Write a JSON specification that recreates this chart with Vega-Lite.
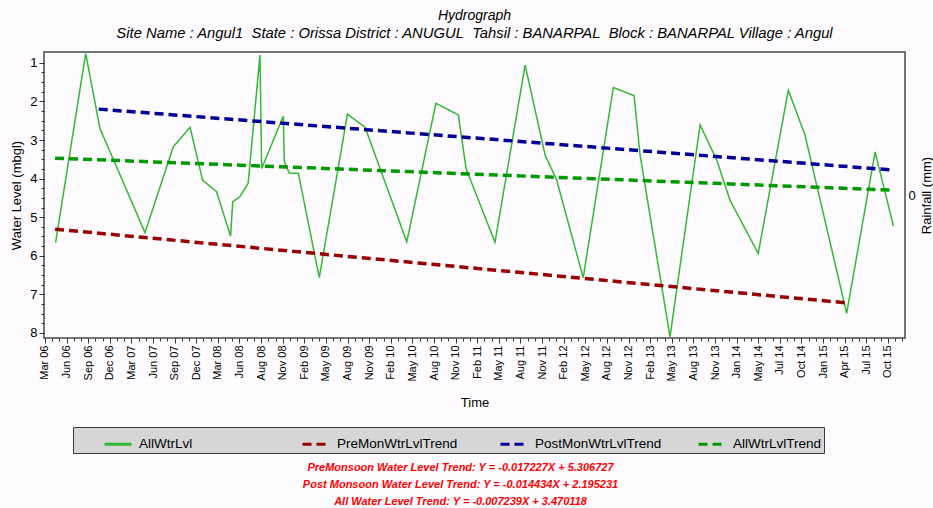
{
  "$schema": "https://vega.github.io/schema/vega-lite/v6.json",
  "width": 861,
  "height": 286,
  "autosize": {"type": "none"},
  "padding": {"left": 44, "top": 52, "right": 28, "bottom": 170},
  "background": "#fefbfe",
  "config": {
    "font": "Liberation Sans",
    "view": {"stroke": "#4a4a4a", "strokeWidth": 1.5},
    "axis": {"grid": false, "labelColor": "#000", "titleColor": "#000", "tickColor": "#333", "domainColor": "#4a4a4a", "titleFontWeight": "normal"}
  },
  "title": {
    "text": "Hydrograph",
    "subtitle": "Site Name : Angul1\u00a0\u00a0State : Orissa District : ANUGUL\u00a0\u00a0Tahsil : BANARPAL\u00a0\u00a0Block : BANARPAL Village : Angul",
    "anchor": "middle",
    "fontSize": 14,
    "fontStyle": "italic",
    "fontWeight": "normal",
    "color": "#000",
    "subtitleFontSize": 14.8,
    "subtitleFontStyle": "italic",
    "subtitleColor": "#000",
    "subtitlePadding": 3,
    "offset": 10
  },
  "layer": [
    {
      "data": {
        "values": [
          {"series": "AllWtrLvl", "date": "2006-04-14", "level": 5.66},
          {"series": "AllWtrLvl", "date": "2006-08-17", "level": 0.76},
          {"series": "AllWtrLvl", "date": "2006-10-15", "level": 2.70},
          {"series": "AllWtrLvl", "date": "2007-04-20", "level": 5.40},
          {"series": "AllWtrLvl", "date": "2007-08-15", "level": 3.18},
          {"series": "AllWtrLvl", "date": "2007-10-24", "level": 2.67},
          {"series": "AllWtrLvl", "date": "2007-12-15", "level": 4.04},
          {"series": "AllWtrLvl", "date": "2008-02-11", "level": 4.34},
          {"series": "AllWtrLvl", "date": "2008-04-09", "level": 5.49},
          {"series": "AllWtrLvl", "date": "2008-04-18", "level": 4.60},
          {"series": "AllWtrLvl", "date": "2008-05-18", "level": 4.47},
          {"series": "AllWtrLvl", "date": "2008-06-21", "level": 4.12},
          {"series": "AllWtrLvl", "date": "2008-08-09", "level": 0.80},
          {"series": "AllWtrLvl", "date": "2008-08-16", "level": 3.74},
          {"series": "AllWtrLvl", "date": "2008-11-14", "level": 2.38},
          {"series": "AllWtrLvl", "date": "2008-11-18", "level": 3.56},
          {"series": "AllWtrLvl", "date": "2008-12-09", "level": 3.86},
          {"series": "AllWtrLvl", "date": "2009-01-15", "level": 3.86},
          {"series": "AllWtrLvl", "date": "2009-04-12", "level": 6.56},
          {"series": "AllWtrLvl", "date": "2009-08-07", "level": 2.33},
          {"series": "AllWtrLvl", "date": "2009-10-19", "level": 2.67},
          {"series": "AllWtrLvl", "date": "2010-04-10", "level": 5.64},
          {"series": "AllWtrLvl", "date": "2010-08-09", "level": 2.05},
          {"series": "AllWtrLvl", "date": "2010-11-10", "level": 2.35},
          {"series": "AllWtrLvl", "date": "2010-12-12", "level": 3.74},
          {"series": "AllWtrLvl", "date": "2011-04-11", "level": 5.65},
          {"series": "AllWtrLvl", "date": "2011-08-14", "level": 1.06},
          {"series": "AllWtrLvl", "date": "2011-11-05", "level": 3.39},
          {"series": "AllWtrLvl", "date": "2011-12-23", "level": 4.04},
          {"series": "AllWtrLvl", "date": "2012-04-11", "level": 6.57},
          {"series": "AllWtrLvl", "date": "2012-08-14", "level": 1.64},
          {"series": "AllWtrLvl", "date": "2012-11-08", "level": 1.85},
          {"series": "AllWtrLvl", "date": "2012-12-03", "level": 3.39},
          {"series": "AllWtrLvl", "date": "2013-04-06", "level": 8.10},
          {"series": "AllWtrLvl", "date": "2013-08-09", "level": 2.61},
          {"series": "AllWtrLvl", "date": "2013-10-17", "level": 3.52},
          {"series": "AllWtrLvl", "date": "2013-12-11", "level": 4.56},
          {"series": "AllWtrLvl", "date": "2014-04-07", "level": 5.94},
          {"series": "AllWtrLvl", "date": "2014-08-10", "level": 1.71},
          {"series": "AllWtrLvl", "date": "2014-10-18", "level": 2.87},
          {"series": "AllWtrLvl", "date": "2015-04-09", "level": 7.49},
          {"series": "AllWtrLvl", "date": "2015-08-05", "level": 3.31},
          {"series": "AllWtrLvl", "date": "2015-10-20", "level": 5.23},
          {"series": "PreMonWtrLvlTrend", "date": "2006-04-12", "level": 5.31},
          {"series": "PreMonWtrLvlTrend", "date": "2015-04-09", "level": 7.22},
          {"series": "PostMonWtrLvlTrend", "date": "2006-10-10", "level": 2.20},
          {"series": "PostMonWtrLvlTrend", "date": "2015-10-20", "level": 3.78},
          {"series": "AllWtrLvlTrend", "date": "2006-04-12", "level": 3.47},
          {"series": "AllWtrLvlTrend", "date": "2015-10-20", "level": 4.30}
        ]
      },
      "mark": {"type": "line", "strokeCap": "butt"},
      "encoding": {
        "x": {
          "field": "date",
          "type": "temporal",
          "scale": {"domain": [1140825600000, 1449446400000]},
          "axis": {
            "orient": "bottom",
            "title": "Time",
            "values": {"expr": "sequence(1141171200000, 1449446400000, 2582496000)"},
            "labelExpr": "abs((datum.value-1141171200000)/7747488000-round((datum.value-1141171200000)/7747488000))>0.1?'':['Mar 06','Jun 06','Sep 06','Dec 06','Mar 07','Jun 07','Sep 07','Dec 07','Mar 08','Jun 08','Aug 08','Nov 08','Feb 09','May 09','Aug 09','Nov 09','Feb 10','May 10','Aug 10','Nov 10','Feb 11','May 11','Aug 11','Nov 11','Feb 12','May 12','Aug 12','Nov 12','Feb 13','May 13','Aug 13','Nov 13','Jan 14','May 14','Jul 14','Oct 14','Jan 15','Apr 15','Jul 15','Oct 15'][round((datum.value-1141171200000)/7747488000)]",
            "tickSize": {"condition": {"test": "abs((datum.value-1141171200000)/7747488000-round((datum.value-1141171200000)/7747488000))>0.1", "value": 3}, "value": 5},
            "labelAngle": -90,
            "labelAlign": "right",
            "labelBaseline": "middle",
            "labelPadding": 2,
            "labelFont": "Liberation Sans",
            "labelFontSize": 11,
            "labelOverlap": false,
            "labelFlush": false,
            "domain": false,
            "titleFontSize": 13,
            "titlePadding": 15
          }
        },
        "y": {
          "field": "level",
          "type": "quantitative",
          "scale": {"domain": [0.72, 8.13], "reverse": true, "nice": false, "zero": false},
          "axis": {
            "title": "Water Level (mbgl)",
            "values": [1, 1.25, 1.5, 1.75, 2, 2.25, 2.5, 2.75, 3, 3.25, 3.5, 3.75, 4, 4.25, 4.5, 4.75, 5, 5.25, 5.5, 5.75, 6, 6.25, 6.5, 6.75, 7, 7.25, 7.5, 7.75, 8],
            "labelExpr": "datum.value % 1 == 0 ? format(datum.value, 'd') : ''",
            "tickSize": {"condition": {"test": "datum.value % 1 == 0", "value": 5}, "value": 3},
            "labelFontSize": 13,
            "labelPadding": 2,
            "domain": false,
            "titleFontSize": 13,
            "titlePadding": 6
          }
        },
        "color": {
          "field": "series",
          "type": "nominal",
          "scale": {
            "domain": ["AllWtrLvl", "PreMonWtrLvlTrend", "PostMonWtrLvlTrend", "AllWtrLvlTrend"],
            "range": ["#33b833", "#990000", "#000099", "#009900"]
          },
          "legend": {
            "title": null,
            "orient": "none",
            "legendX": 29,
            "legendY": 375,
            "direction": "horizontal",
            "columns": 4,
            "gridAlign": "all",
            "padding": 2,
            "columnPadding": 7,
            "symbolType": "stroke",
            "symbolSize": 729,
            "symbolStrokeWidth": 3,
            "symbolOffset": 28,
            "labelOffset": 6,
            "labelFontSize": 13.5,
            "labelColor": "#000",
            "labelLimit": 200,
            "fillColor": "#d6d6d6",
            "strokeColor": "#3a3a3a",
            "encode": {
              "legend": {
                "fill": {"value": {"gradient": "linear", "x1": 0, "y1": 0, "x2": 1, "y2": 0, "stops": [{"offset": 0, "color": "#c6c6c6"}, {"offset": 0.6, "color": "#d8d8d8"}, {"offset": 0.85, "color": "#f8f8f8"}, {"offset": 1, "color": "#ffffff"}]}},
                "strokeWidth": {"value": 1.5}
              }
            }
          }
        },
        "strokeDash": {
          "field": "series",
          "type": "nominal",
          "scale": {
            "domain": ["AllWtrLvl", "PreMonWtrLvlTrend", "PostMonWtrLvlTrend", "AllWtrLvlTrend"],
            "range": [[1, 0], [9, 5], [9, 5], [9, 5]]
          }
        },
        "strokeWidth": {"condition": {"test": "datum.series === 'AllWtrLvl'", "value": 1.5}, "value": 3.5}
      }
    },
    {
      "data": {"values": []},
      "mark": "rule",
      "encoding": {
        "x": {
          "field": "date",
          "type": "temporal",
          "axis": {
            "orient": "bottom",
            "title": ["PreMonsoon Water Level Trend: Y = -0.017227X + 5.306727", "Post Monsoon Water Level Trend: Y = -0.014434X + 2.195231", "All Water Level Trend: Y = -0.007239X + 3.470118"],
            "labels": false,
            "ticks": false,
            "domain": false,
            "titleColor": "#ff0000",
            "titleFontStyle": "italic",
            "titleFontWeight": "bold",
            "titleFontSize": 11,
            "titleLineHeight": 17,
            "titlePadding": 123,
            "titleX": 416,
            "titleAlign": "center"
          }
        },
        "y": {
          "field": "rainfall",
          "type": "quantitative",
          "scale": {"domain": [-1, 1], "nice": false, "zero": false},
          "axis": {
            "orient": "right",
            "title": "Rainfall (mm)",
            "values": [0],
            "ticks": false,
            "domain": false,
            "labelPadding": 3,
            "labelFontSize": 13,
            "titleFontSize": 13,
            "titleAngle": 270,
            "titlePadding": 18
          }
        }
      }
    }
  ],
  "resolve": {"scale": {"y": "independent"}, "axis": {"x": "independent"}}
}
